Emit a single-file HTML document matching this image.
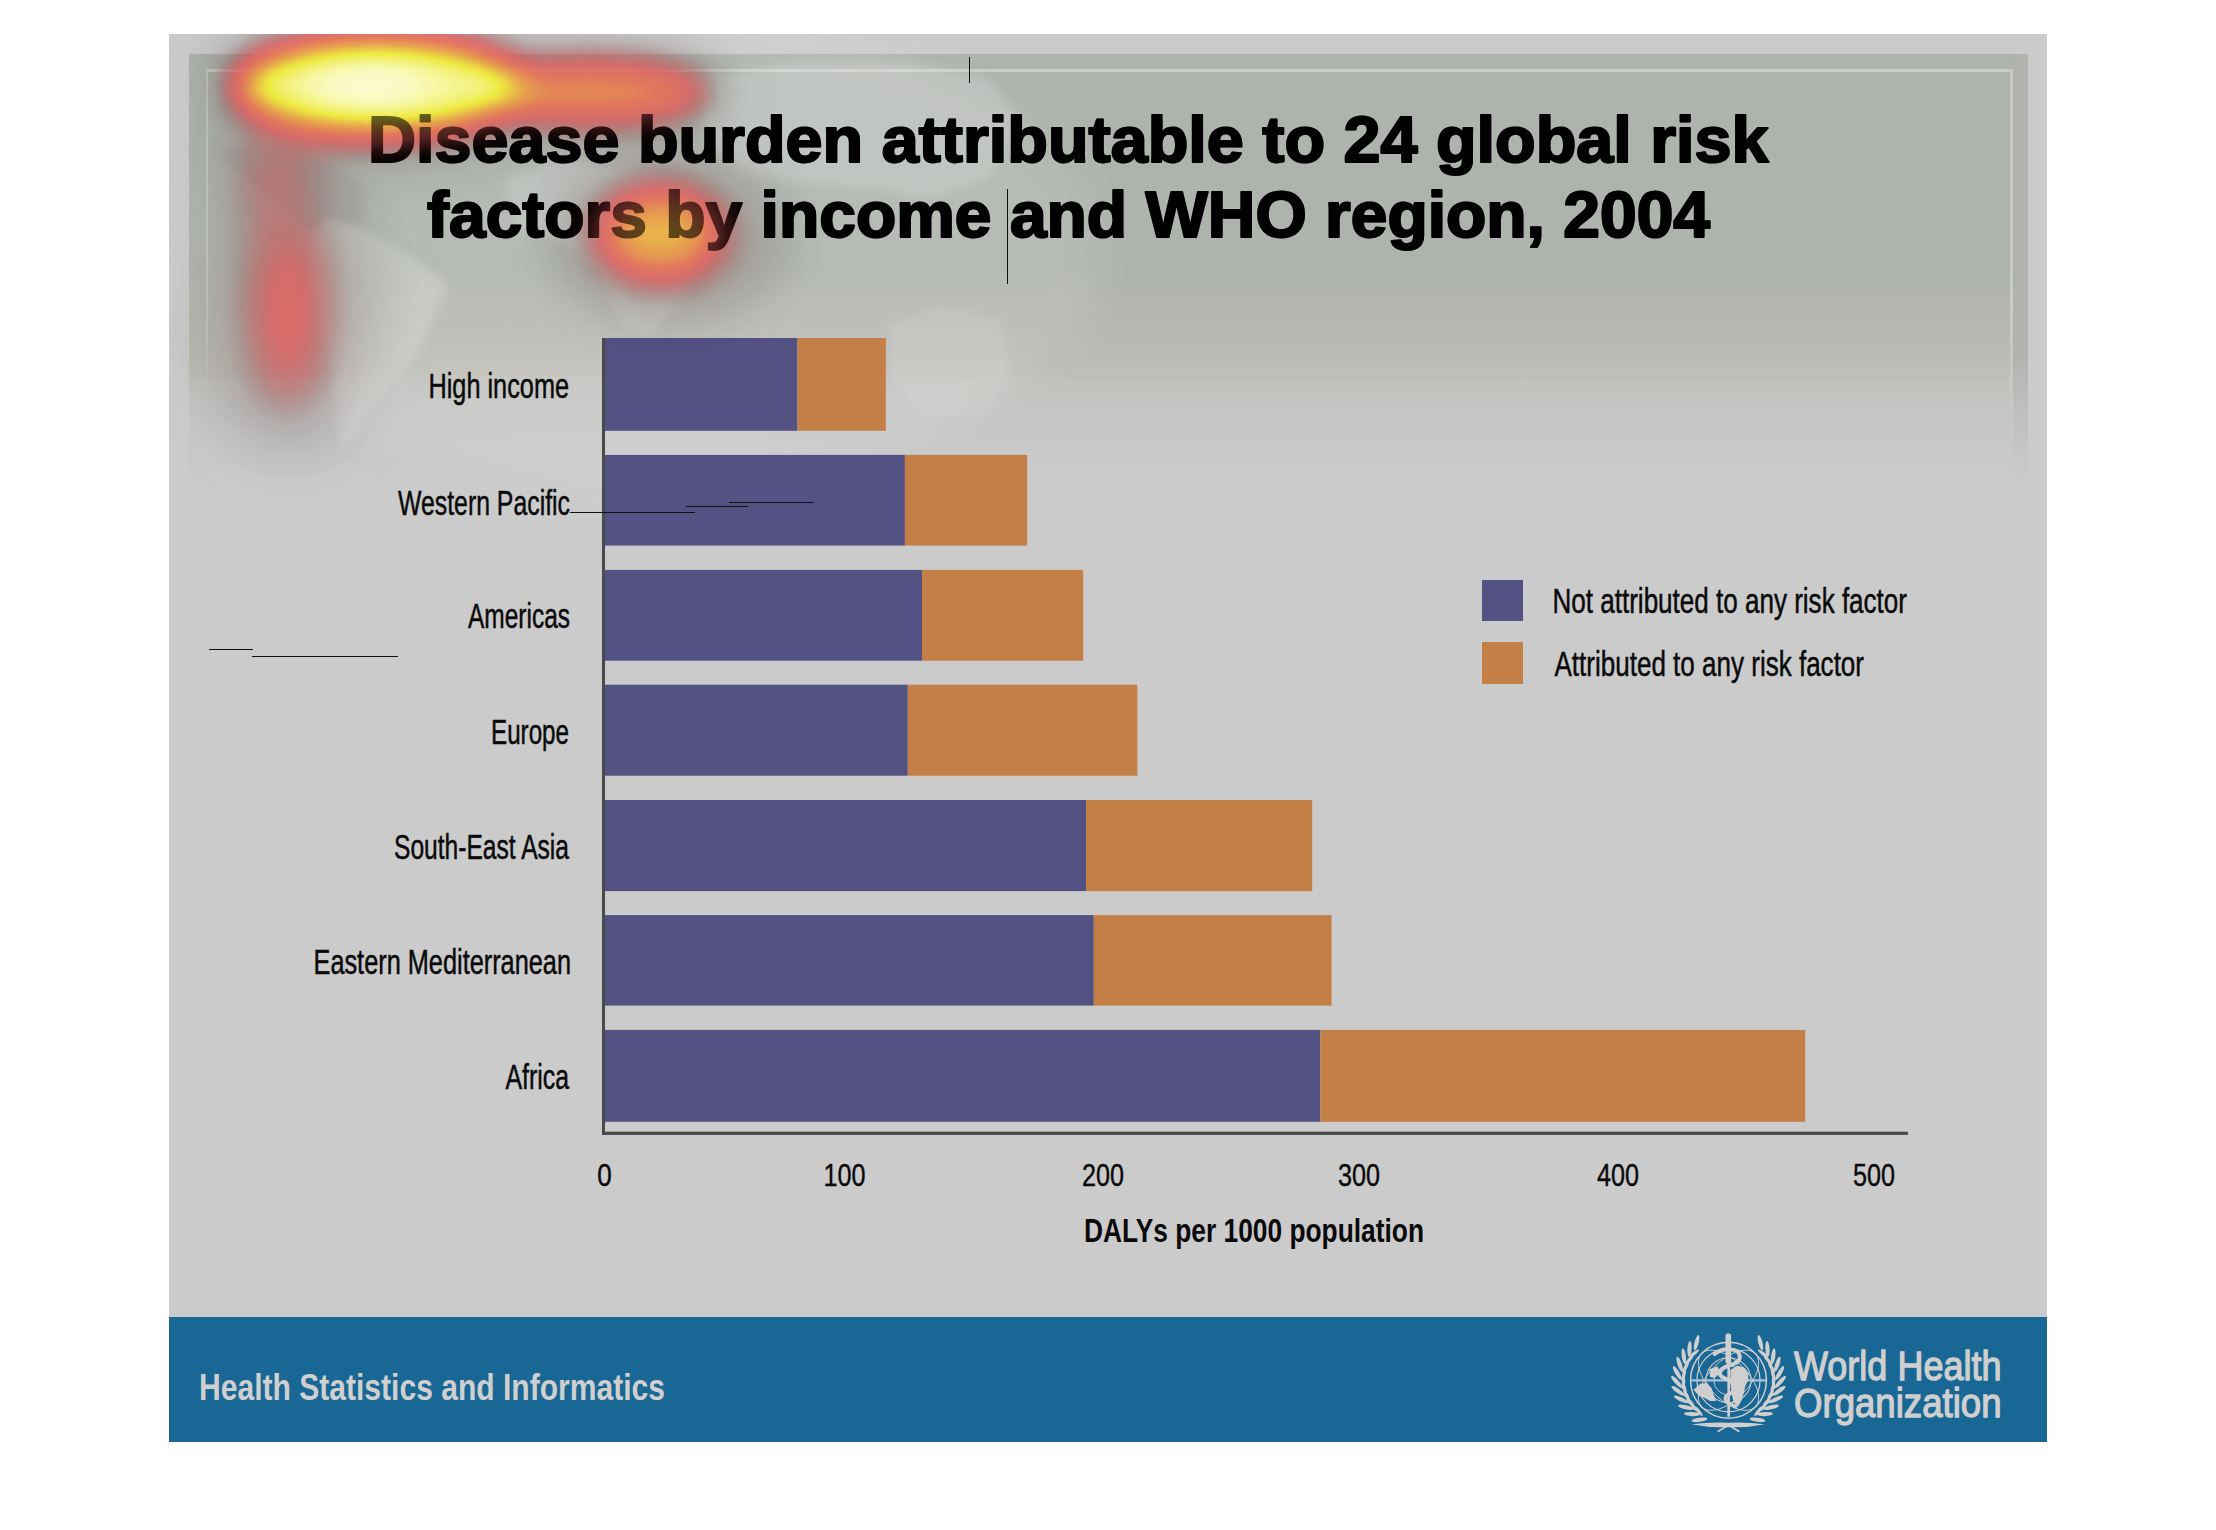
<!DOCTYPE html>
<html><head><meta charset="utf-8">
<style>
html,body{margin:0;padding:0;background:#fff;width:2216px;height:1530px;overflow:hidden;position:relative;font-family:"Liberation Sans",sans-serif;}
.abs{position:absolute;}
#slide{left:169px;top:34px;width:1878px;height:1283px;background:#cbcbcb;}
#panel{left:189px;top:54px;width:1839px;height:445px;
 background:linear-gradient(to bottom,#aeb3ad 0px,#aeb3ad 212px,#b1b4ae 232px,#b6b7b1 265px,#bbbbb5 300px,#bebdb8 320px,#c1c1bd 326px,#c4c4c3 350px,#c8c8c8 390px,#cbcbcb 436px);}
#strip{left:2013px;top:54px;width:15px;height:440px;background:linear-gradient(to bottom,#b2b3af 0,#b2b3af 300px,#bfbfbf 360px,#cbcbcb 430px);}
#frame{left:206px;top:69px;width:1802px;height:420px;border-top:3px solid #c8ccc6;border-left:2px solid #c3c7c1;border-right:3px solid #c8ccc6;
 -webkit-mask-image:linear-gradient(to bottom,#000 0,#000 250px,transparent 420px);}
#bar{left:169px;top:1317px;width:1878px;height:125px;background:#196794;}
.title{left:0;width:2216px;text-align:center;font-weight:bold;font-size:61px;color:#000;white-space:nowrap;}
.lbl{font-size:34px;color:#111;white-space:nowrap;transform-origin:right center;}
.bp{background:#545183;}
.bo{background:#c47f46;}
.tick{font-size:30px;color:#111;white-space:nowrap;}
</style></head><body>
<div id="slide" class="abs"></div>
<div id="panel" class="abs"></div>
<div id="strip" class="abs"></div>
<div id="frame" class="abs"></div>
<svg class="abs" style="left:0;top:0;" width="2216" height="600" viewBox="0 0 2216 600">
<defs><filter id="mb" x="-20%" y="-20%" width="140%" height="140%"><feGaussianBlur stdDeviation="4"/></filter>
<filter id="mb2" x="-50%" y="-50%" width="200%" height="200%"><feGaussianBlur stdDeviation="18"/></filter></defs>
<g filter="url(#mb2)" fill="#fff" fill-opacity="0.10">
<ellipse cx="640" cy="250" rx="460" ry="230"/>
</g>
<g filter="url(#mb)" fill="#e8e8e6" fill-opacity="0.24">
<path d="M505,178 L560,160 L620,168 L690,188 L705,240 L680,300 L650,335 L620,322 L600,272 L560,242 L515,226 Z"/>
<path d="M311,234 L328,219 L363,229 L393,246 L437,274 L447,289 L432,323 L412,361 L388,386 L363,418 L343,448 L338,410 L328,361 L318,323 L308,274 Z" fill-opacity="0.3"/>
<path d="M695,80 L800,62 L900,60 L990,78 L1020,120 L990,178 L930,198 L880,190 L800,182 L745,170 L705,140 Z"/>
<path d="M890,325 L940,305 L1000,318 L1012,370 L985,415 L925,418 L892,385 Z" fill-opacity="0.16"/>
</g>
<g filter="url(#mb)" fill="#8f948e" fill-opacity="0.25">
<path d="M214,150 L258,146 L300,148 L365,185 L363,226 L328,216 L311,232 L301,226 Z"/>
</g>
</svg>



<!-- chart -->
<svg class="abs" style="left:0;top:0;" width="2216" height="1200" viewBox="0 0 2216 1200"><rect x="605" y="338.0" width="192.5" height="92.8" fill="#545183"/><rect x="797.5" y="338.0" width="88.3" height="92.8" fill="#c47f46"/><rect x="605" y="454.9" width="299.9" height="90.7" fill="#545183"/><rect x="904.9" y="454.9" width="122.3" height="90.7" fill="#c47f46"/><rect x="605" y="569.9" width="317.0" height="90.8" fill="#545183"/><rect x="922.0" y="569.9" width="161.2" height="90.8" fill="#c47f46"/><rect x="605" y="684.7" width="302.8" height="91.0" fill="#545183"/><rect x="907.8" y="684.7" width="229.6" height="91.0" fill="#c47f46"/><rect x="605" y="800.0" width="481.0" height="91.1" fill="#545183"/><rect x="1086.0" y="800.0" width="226.2" height="91.1" fill="#c47f46"/><rect x="605" y="915.1" width="488.8" height="90.5" fill="#545183"/><rect x="1093.8" y="915.1" width="237.8" height="90.5" fill="#c47f46"/><rect x="605" y="1029.9" width="715.4" height="91.9" fill="#545183"/><rect x="1320.4" y="1029.9" width="484.8" height="91.9" fill="#c47f46"/><rect x="602" y="338" width="3" height="797" fill="#4a4a4a"/><rect x="602" y="1131.7" width="1306" height="3.2" fill="#4a4a4a"/></svg>


<div id="bar" class="abs"></div>
<!--EMBLEM--><svg class="abs" style="left:1665px;top:1325px;" width="130" height="115" viewBox="0 0 1730 1530"><circle cx="845" cy="735" r="505" fill="none" stroke="#cfcfcf" stroke-width="20"/><circle cx="845" cy="735" r="420" fill="none" stroke="#cfcfcf" stroke-width="16"/><circle cx="845" cy="735" r="300" fill="none" stroke="#cfcfcf" stroke-width="14"/><circle cx="845" cy="735" r="195" fill="none" stroke="#cfcfcf" stroke-width="12"/><line x1="335" y1="738" x2="1345" y2="738" stroke="#a9c3d4" stroke-width="30"/><ellipse cx="845" cy="735" rx="260" ry="505" fill="none" stroke="#cfcfcf" stroke-width="12" transform="rotate(45 845 735)"/><ellipse cx="845" cy="735" rx="260" ry="505" fill="none" stroke="#cfcfcf" stroke-width="12" transform="rotate(-45 845 735)"/><path d="M380,860 L470,780 L560,770 L620,840 L650,930 L680,1010 L600,1010 L530,970 L450,940 Z" fill="#cfcfcf"/><path d="M870,600 L960,540 L1060,570 L1110,640 L1110,730 L1070,810 L1050,900 L1020,1000 L970,1090 L910,1020 L885,900 L870,780 Z" fill="#cfcfcf"/><path d="M590,590 L700,550 L730,640 L660,710 L600,690 Z" fill="#cfcfcf"/><path d="M805,130 Q840,90 880,130 L880,500 L865,520 L865,1220 L830,1220 L830,520 L805,500 Z" fill="#cfcfcf"/><path d="M660,385 C780,290 1010,300 995,440 C985,550 745,520 730,640 C720,735 955,720 950,830 C945,920 790,905 805,985 C815,1050 900,1060 935,1085" fill="none" stroke="#cfcfcf" stroke-width="52" stroke-linecap="round"/><ellipse cx="459" cy="1261" rx="105" ry="28" fill="#cfcfcf" transform="rotate(-188.2 459 1261)"/><ellipse cx="359" cy="1185" rx="105" ry="28" fill="#cfcfcf" transform="rotate(-177.6 359 1185)"/><ellipse cx="276" cy="1094" rx="105" ry="28" fill="#cfcfcf" transform="rotate(-166.7 276 1094)"/><ellipse cx="213" cy="989" rx="105" ry="28" fill="#cfcfcf" transform="rotate(-155.4 213 989)"/><ellipse cx="172" cy="876" rx="105" ry="28" fill="#cfcfcf" transform="rotate(-143.9 172 876)"/><ellipse cx="155" cy="757" rx="105" ry="28" fill="#cfcfcf" transform="rotate(-132.2 155 757)"/><ellipse cx="163" cy="638" rx="105" ry="28" fill="#cfcfcf" transform="rotate(-120.4 163 638)"/><ellipse cx="195" cy="522" rx="105" ry="28" fill="#cfcfcf" transform="rotate(-108.8 195 522)"/><ellipse cx="250" cy="414" rx="105" ry="28" fill="#cfcfcf" transform="rotate(-97.5 250 414)"/><ellipse cx="326" cy="317" rx="105" ry="28" fill="#cfcfcf" transform="rotate(-86.4 326 317)"/><ellipse cx="420" cy="235" rx="105" ry="28" fill="#cfcfcf" transform="rotate(-75.7 420 235)"/><ellipse cx="444" cy="1145" rx="85" ry="22" fill="#cfcfcf" transform="rotate(-130.4 444 1145)"/><ellipse cx="366" cy="1067" rx="85" ry="22" fill="#cfcfcf" transform="rotate(-119.3 366 1067)"/><ellipse cx="306" cy="977" rx="85" ry="22" fill="#cfcfcf" transform="rotate(-107.9 306 977)"/><ellipse cx="265" cy="878" rx="85" ry="22" fill="#cfcfcf" transform="rotate(-96.2 265 878)"/><ellipse cx="246" cy="774" rx="85" ry="22" fill="#cfcfcf" transform="rotate(-84.3 246 774)"/><ellipse cx="249" cy="668" rx="85" ry="22" fill="#cfcfcf" transform="rotate(-72.4 249 668)"/><ellipse cx="274" cy="564" rx="85" ry="22" fill="#cfcfcf" transform="rotate(-60.5 274 564)"/><ellipse cx="320" cy="467" rx="85" ry="22" fill="#cfcfcf" transform="rotate(-48.9 320 467)"/><ellipse cx="385" cy="380" rx="85" ry="22" fill="#cfcfcf" transform="rotate(-37.6 385 380)"/><ellipse cx="1231" cy="1261" rx="105" ry="28" fill="#cfcfcf" transform="rotate(368.2 1231 1261)"/><ellipse cx="1331" cy="1185" rx="105" ry="28" fill="#cfcfcf" transform="rotate(357.6 1331 1185)"/><ellipse cx="1414" cy="1094" rx="105" ry="28" fill="#cfcfcf" transform="rotate(346.7 1414 1094)"/><ellipse cx="1477" cy="989" rx="105" ry="28" fill="#cfcfcf" transform="rotate(335.4 1477 989)"/><ellipse cx="1518" cy="876" rx="105" ry="28" fill="#cfcfcf" transform="rotate(323.9 1518 876)"/><ellipse cx="1535" cy="757" rx="105" ry="28" fill="#cfcfcf" transform="rotate(312.2 1535 757)"/><ellipse cx="1527" cy="638" rx="105" ry="28" fill="#cfcfcf" transform="rotate(300.4 1527 638)"/><ellipse cx="1495" cy="522" rx="105" ry="28" fill="#cfcfcf" transform="rotate(288.8 1495 522)"/><ellipse cx="1440" cy="414" rx="105" ry="28" fill="#cfcfcf" transform="rotate(277.5 1440 414)"/><ellipse cx="1364" cy="317" rx="105" ry="28" fill="#cfcfcf" transform="rotate(266.4 1364 317)"/><ellipse cx="1270" cy="235" rx="105" ry="28" fill="#cfcfcf" transform="rotate(255.7 1270 235)"/><ellipse cx="1246" cy="1145" rx="85" ry="22" fill="#cfcfcf" transform="rotate(310.4 1246 1145)"/><ellipse cx="1324" cy="1067" rx="85" ry="22" fill="#cfcfcf" transform="rotate(299.3 1324 1067)"/><ellipse cx="1384" cy="977" rx="85" ry="22" fill="#cfcfcf" transform="rotate(287.9 1384 977)"/><ellipse cx="1425" cy="878" rx="85" ry="22" fill="#cfcfcf" transform="rotate(276.2 1425 878)"/><ellipse cx="1444" cy="774" rx="85" ry="22" fill="#cfcfcf" transform="rotate(264.3 1444 774)"/><ellipse cx="1441" cy="668" rx="85" ry="22" fill="#cfcfcf" transform="rotate(252.4 1441 668)"/><ellipse cx="1416" cy="564" rx="85" ry="22" fill="#cfcfcf" transform="rotate(240.5 1416 564)"/><ellipse cx="1370" cy="467" rx="85" ry="22" fill="#cfcfcf" transform="rotate(228.9 1370 467)"/><ellipse cx="1305" cy="380" rx="85" ry="22" fill="#cfcfcf" transform="rotate(217.6 1305 380)"/><path d="M350,1320 Q600,1290 845,1300 Q1090,1290 1330,1320 Q1090,1370 845,1360 Q600,1370 350,1320 Z" fill="#cfcfcf"/><path d="M700,1420 L845,1330 L990,1420" fill="none" stroke="#cfcfcf" stroke-width="22"/></svg><!--/EMBLEM-->
<div class="abs bp" style="left:1482px;top:580px;width:41px;height:41px;"></div>
<div class="abs bo" style="left:1482px;top:642px;width:41px;height:42px;"></div>

<svg class="abs" style="left:0;top:0;" width="2216" height="1530" viewBox="0 0 2216 1530">
<g font-family="Liberation Sans, sans-serif" font-weight="bold" font-size="64" fill="#000" stroke="#000" stroke-width="2" stroke-linejoin="round">
<text x="368" y="161.5" textLength="1400.5" lengthAdjust="spacingAndGlyphs">Disease burden attributable to 24 global risk</text>
<text x="427" y="236.5" textLength="1283" lengthAdjust="spacingAndGlyphs">factors by income and WHO region, 2004</text>
</g>
<g font-family="Liberation Sans, sans-serif" font-size="35" fill="#0a0a0a" stroke="#0a0a0a" stroke-width="0.5" text-anchor="end">
<text x="569" y="398" textLength="140.5" lengthAdjust="spacingAndGlyphs">High income</text>
<text x="570" y="515" textLength="172" lengthAdjust="spacingAndGlyphs">Western Pacific</text>
<text x="570" y="628" textLength="102" lengthAdjust="spacingAndGlyphs">Americas</text>
<text x="569" y="744" textLength="78" lengthAdjust="spacingAndGlyphs">Europe</text>
<text x="569" y="859" textLength="175" lengthAdjust="spacingAndGlyphs">South-East Asia</text>
<text x="571" y="974" textLength="257.5" lengthAdjust="spacingAndGlyphs">Eastern Mediterranean</text>
<text x="569" y="1089" textLength="63.5" lengthAdjust="spacingAndGlyphs">Africa</text>
</g>
<g font-family="Liberation Sans, sans-serif" font-size="35" fill="#0a0a0a" stroke="#0a0a0a" stroke-width="0.5">
<text x="1552.5" y="613" textLength="354.5" lengthAdjust="spacingAndGlyphs">Not attributed to any risk factor</text>
<text x="1554.5" y="676" textLength="309.5" lengthAdjust="spacingAndGlyphs">Attributed to any risk factor</text>
</g>
<g font-family="Liberation Sans, sans-serif" font-size="32" fill="#0a0a0a" stroke="#0a0a0a" stroke-width="0.4" text-anchor="middle">
<text x="604.5" y="1185.5" textLength="14.5" lengthAdjust="spacingAndGlyphs">0</text>
<text x="844.5" y="1185.5" textLength="42" lengthAdjust="spacingAndGlyphs">100</text>
<text x="1103" y="1185.5" textLength="42" lengthAdjust="spacingAndGlyphs">200</text>
<text x="1359" y="1185.5" textLength="42" lengthAdjust="spacingAndGlyphs">300</text>
<text x="1618" y="1185.5" textLength="42" lengthAdjust="spacingAndGlyphs">400</text>
<text x="1874" y="1185.5" textLength="42" lengthAdjust="spacingAndGlyphs">500</text>
</g>
<text x="1084" y="1242" font-family="Liberation Sans, sans-serif" font-weight="bold" font-size="34" fill="#0a0a0a" textLength="340" lengthAdjust="spacingAndGlyphs">DALYs per 1000 population</text>
<text x="199" y="1399.5" font-family="Liberation Sans, sans-serif" font-weight="bold" font-size="37" fill="#cfcfcf" textLength="466" lengthAdjust="spacingAndGlyphs">Health Statistics and Informatics</text>
<g font-family="Liberation Sans, sans-serif" font-size="41" fill="#cfcfcf" stroke="#cfcfcf" stroke-width="1.3">
<text x="1794" y="1380" textLength="207.5" lengthAdjust="spacingAndGlyphs">World Health</text>
<text x="1794" y="1417" textLength="207.5" lengthAdjust="spacingAndGlyphs">Organization</text>
</g>
</svg>



<div class="abs" style="left:969px;top:57px;width:1px;height:26px;background:#111;"></div>
<div class="abs" style="left:1007px;top:189px;width:1px;height:95px;background:#111;"></div>
<div class="abs" style="left:570px;top:512px;width:125px;height:1px;background:#111;"></div>
<div class="abs" style="left:686px;top:506px;width:62px;height:1px;background:#111;"></div>
<div class="abs" style="left:729px;top:502px;width:85px;height:1px;background:#111;"></div>
<div class="abs" style="left:209px;top:649px;width:44px;height:1px;background:#111;"></div>
<div class="abs" style="left:252px;top:656px;width:146px;height:1px;background:#111;"></div>
<div class="abs" style="left:169px;top:34px;width:1878px;height:1283px;overflow:hidden;pointer-events:none;">
<svg width="1878" height="700" viewBox="169 34 1878 700" style="position:absolute;left:0;top:0;">
<defs>
<filter id="hm" x="0" y="0" width="1878" height="700" filterUnits="userSpaceOnUse" color-interpolation-filters="sRGB">
<feColorMatrix type="matrix" values="0 0 0 1 0  0 0 0 1 0  0 0 0 1 0  0 0 0 1 0"/>
<feComponentTransfer>
<feFuncR type="table" tableValues="0.0 0.071 0.141 0.212 0.282 0.353 0.408 0.464 0.52 0.575 0.631 0.686 0.715 0.743 0.771 0.8 0.828 0.856 0.874 0.88 0.886 0.892 0.898 0.904 0.91 0.912 0.914 0.917 0.919 0.921 0.923 0.925 0.929 0.932 0.936 0.939 0.942 0.946 0.949 0.955 0.96 0.966 0.971 0.977 0.983 0.988 0.991 0.993 0.995 0.998 1.0"/>
<feFuncG type="table" tableValues="0.0 0.035 0.071 0.106 0.141 0.176 0.19 0.203 0.216 0.229 0.242 0.255 0.269 0.283 0.297 0.31 0.324 0.338 0.352 0.365 0.378 0.392 0.405 0.418 0.431 0.459 0.487 0.515 0.543 0.571 0.599 0.627 0.671 0.715 0.759 0.802 0.846 0.89 0.933 0.941 0.949 0.957 0.965 0.973 0.98 0.988 0.991 0.993 0.995 0.998 1.0"/>
<feFuncB type="table" tableValues="0.0 0.035 0.071 0.106 0.141 0.176 0.19 0.203 0.216 0.229 0.242 0.255 0.269 0.283 0.297 0.31 0.324 0.338 0.343 0.338 0.333 0.328 0.323 0.319 0.314 0.305 0.297 0.289 0.28 0.272 0.263 0.255 0.249 0.244 0.238 0.232 0.227 0.221 0.216 0.286 0.356 0.426 0.496 0.566 0.636 0.706 0.761 0.816 0.871 0.925 0.98"/>
<feFuncA type="table" tableValues="0.0 0.032 0.064 0.096 0.128 0.16 0.213 0.267 0.32 0.373 0.427 0.48 0.529 0.578 0.628 0.677 0.726 0.775 0.806 0.818 0.831 0.843 0.855 0.868 0.88 0.883 0.886 0.889 0.891 0.894 0.897 0.9 0.904 0.909 0.913 0.917 0.921 0.926 0.93 0.934 0.939 0.943 0.947 0.951 0.956 0.96 0.966 0.972 0.978 0.984 0.99"/>
</feComponentTransfer>
</filter>
<filter id="bA" x="0" y="0" width="1878" height="700" filterUnits="userSpaceOnUse" color-interpolation-filters="sRGB">
<feGaussianBlur in="SourceGraphic" stdDeviation="18" result="a"/>
<feGaussianBlur in="SourceGraphic" stdDeviation="45" result="b"/>
<feComposite in="a" in2="b" operator="arithmetic" k1="0" k2="0.8" k3="0.25" k4="0"/>
</filter>
<filter id="bB" x="0" y="0" width="1878" height="700" filterUnits="userSpaceOnUse" color-interpolation-filters="sRGB">
<feGaussianBlur in="SourceGraphic" stdDeviation="26" result="a"/>
<feGaussianBlur in="SourceGraphic" stdDeviation="50" result="b"/>
<feComposite in="a" in2="b" operator="arithmetic" k1="0" k2="0.7" k3="0.35" k4="0"/>
</filter>
<filter id="bC" x="0" y="0" width="1878" height="700" filterUnits="userSpaceOnUse" color-interpolation-filters="sRGB">
<feGaussianBlur in="SourceGraphic" stdDeviation="18" result="a"/>
<feGaussianBlur in="SourceGraphic" stdDeviation="40" result="b"/>
<feComposite in="a" in2="b" operator="arithmetic" k1="0" k2="0.8" k3="0.25" k4="0"/>
</filter>
</defs>
<g filter="url(#hm)">
<rect x="169" y="34" width="1" height="1" fill="#fff" fill-opacity="0"/>
<g filter="url(#bA)">
<ellipse cx="378" cy="86" rx="148" ry="50" fill="#fff" fill-opacity="0.9"/>
<ellipse cx="367" cy="84" rx="60" ry="18" fill="#fff" fill-opacity="0.9"/>
<ellipse cx="595" cy="92" rx="118" ry="32" fill="#fff" fill-opacity="0.6"/>
</g>
<g filter="url(#bB)">
<ellipse cx="288" cy="312" rx="18" ry="92" fill="#fff" fill-opacity="0.72"/><ellipse cx="290" cy="300" rx="80" ry="150" fill="#fff" fill-opacity="0.09"/><ellipse cx="272" cy="175" rx="40" ry="45" fill="#fff" fill-opacity="0.25"/>
</g>
<g filter="url(#bC)">
<ellipse cx="660" cy="234" rx="62" ry="44" fill="#fff" fill-opacity="0.65"/><ellipse cx="670" cy="240" rx="120" ry="80" fill="#fff" fill-opacity="0.09"/>
</g>
</g>
</svg>
</div>
<svg class="abs" style="left:0;top:0;opacity:0.55;" width="2216" height="300" viewBox="0 0 2216 300"><g font-family="Liberation Sans, sans-serif" font-weight="bold" font-size="64" fill="#000" stroke="#000" stroke-width="2" stroke-linejoin="round">
<text x="368" y="161.5" textLength="1400.5" lengthAdjust="spacingAndGlyphs">Disease burden attributable to 24 global risk</text>
<text x="427" y="236.5" textLength="1283" lengthAdjust="spacingAndGlyphs">factors by income and WHO region, 2004</text>
</g></svg>
</body></html>
